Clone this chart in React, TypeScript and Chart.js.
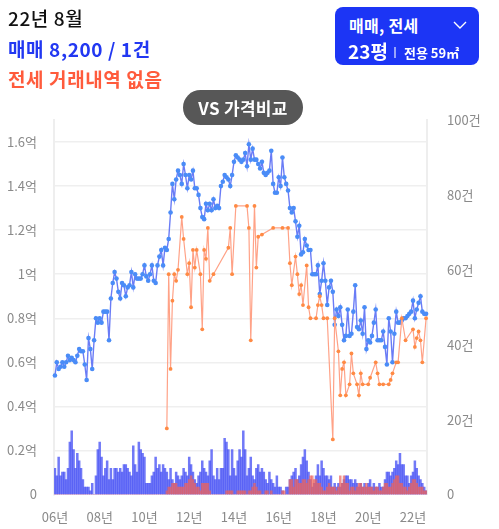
import React, { useEffect, useRef } from 'react';
import { Chart, registerables } from 'chart.js';

Chart.register(...registerables);

// ---- data ----
const START_YEAR = 2006;
const MONTH_COUNT = 200; // 2006-01 .. 2022-08
const months: string[] = Array.from({ length: MONTH_COUNT }, (_, i) =>
  `${START_YEAR + Math.floor(i / 12)}-${String((i % 12) + 1).padStart(2, '0')}`
);
const yearTickLabels = ['06년', '08년', '10년', '12년', '14년', '16년', '18년', '20년', '22년'];

// 매매 평균가 (억)
const salePrice: number[] = [
  0.54, 0.60, 0.57, 0.58, 0.60, 0.58, 0.60, 0.63, 0.61, 0.62,
  0.61, 0.60, 0.63, 0.66, 0.65, 0.65, 0.59, 0.52, 0.71, 0.66,
  0.57, 0.70, 0.80, 0.78, 0.80, 0.78, 0.83, 0.83, 0.83, 0.70,
  0.89, 0.96, 1.01, 0.98, 0.92, 0.89, 0.96, 0.95, 0.90, 0.94,
  0.95, 1.01, 0.94, 1.00, 0.98, 0.98, 0.98, 1.00, 1.04, 0.99,
  0.97, 1.00, 1.04, 0.97, 0.96, 1.04, 1.08, 1.11, 1.04, 1.12,
  1.11, 1.16, 1.28, 1.41, 1.34, 1.43, 1.47, 1.45, 1.41, 1.50,
  1.45, 1.39, 1.45, 1.43, 1.47, 1.39, 1.39, 1.36, 1.30, 1.26,
  1.25, 1.32, 1.29, 1.32, 1.29, 1.34, 1.30, 1.31, 1.30, 1.40,
  1.42, 1.45, 1.44, 1.43, 1.40, 1.45, 1.51, 1.54, 1.53, 1.52,
  1.51, 1.52, 1.55, 1.49, 1.59, 1.52, 1.57, 1.52, 1.52, 1.50,
  1.48, 1.51, 1.46, 1.45, 1.46, 1.47, 1.56, 1.41, 1.37, 1.37,
  1.44, 1.40, 1.53, 1.44, 1.41, 1.38, 1.30, 1.28, 1.30, 1.24,
  1.17, 1.22, 1.09, 1.10, 1.16, 1.13, 1.11, 1.11, 1.00, 1.00,
  1.00, 1.04, 0.91, 0.97, 1.05, 0.97, 0.86, 0.94, 0.97, 0.92,
  0.77, 0.84, 0.81, 0.85, 0.77, 0.70, 0.72, 0.84, 0.72, 0.73,
  0.83, 0.95, 0.76, 0.75, 0.79, 0.73, 0.85, 0.66, 0.70, 0.69,
  0.72, 0.78, 0.84, 0.70, 0.70, 0.70, 0.74, 0.67, 0.59, 0.80,
  0.74, 0.60, 0.73, 0.83, 0.78, 0.78, 0.79, 0.80, 0.80, 0.81,
  0.82, 0.83, 0.88, 0.80, 0.84, 0.87, 0.90, 0.83, 0.82, 0.82,
];

// 전세 평균가 (억)
const N = null;
const jeonsePrice: (number | null)[] = [
  N, N, N, N, N, N, N, N, N, N,
  N, N, N, N, N, N, N, N, N, N,
  N, N, N, N, N, N, N, N, N, N,
  N, N, N, N, N, N, N, N, N, N,
  N, N, N, N, N, N, N, N, N, N,
  N, N, N, N, N, N, N, N, N, N,
  0.30, 1.00, 0.57, 0.88, 1.00, 0.97, 1.02, N, 1.26, 1.16,
  N, 1.00, 1.05, 0.85, 1.11, 1.03, 1.11, N, 1.00, 0.75,
  1.11, 1.07, 1.21, 0.97, N, 1.00, N, N, N, N,
  N, N, N, 1.12, 1.21, 1.00, N, 1.31, N, N,
  N, N, N, 1.31, 1.21, 0.70, N, 1.31, 1.03, 1.17,
  N, 1.18, N, N, N, N, N, 1.21, N, N,
  N, N, 1.21, N, N, 1.21, 1.05, 0.95, N, 1.08,
  1.00, 0.91, 0.95, 0.86, N, 1.04, 0.85, 0.80, N, N,
  0.80, 0.86, 0.90, 0.86, 0.80, N, 0.80, N, N, 0.25,
  0.80, N, 0.65, 0.45, 0.57, 0.60, 0.45, N, 0.50, 0.64,
  0.55, N, 0.50, 0.45, 0.55, 0.50, N, N, 0.50, 0.53,
  N, N, 0.60, 0.55, 0.50, N, 0.50, N, N, 0.50,
  0.52, 0.55, N, 0.60, 0.60, N, 0.80, N, 0.70, N,
  N, N, 0.75, 0.67, 0.71, 0.74, 0.70, 0.60, N, 0.80,
];

// 매매 거래량 (건)
const saleCount: number[] = [
  7, 5, 10, 5, 6, 6, 4, 7, 14, 17,
  12, 7, 11, 9, 7, 4, 2, 2, 2, 1,
  3, 0, 5, 12, 14, 10, 5, 7, 9, 4,
  7, 4, 7, 7, 6, 7, 6, 8, 8, 7,
  6, 5, 13, 8, 6, 14, 12, 11, 10, 3,
  3, 3, 5, 6, 10, 7, 8, 6, 8, 7,
  6, 4, 7, 4, 3, 6, 5, 4, 5, 7,
  6, 5, 10, 8, 6, 4, 3, 5, 6, 9,
  7, 6, 5, 9, 12, 5, 4, 7, 4, 7,
  7, 15, 14, 12, 5, 12, 7, 5, 9, 12,
  10, 17, 12, 5, 7, 10, 5, 4, 7, 8,
  6, 7, 6, 4, 3, 6, 4, 3, 2, 5,
  2, 2, 1, 0, 2, 2, 4, 5, 6, 7,
  4, 5, 8, 10, 12, 9, 6, 4, 2, 3,
  5, 8, 5, 9, 7, 5, 5, 4, 5, 2,
  3, 2, 3, 2, 3, 4, 5, 5, 4, 4,
  3, 4, 3, 2, 3, 2, 3, 2, 3, 4,
  2, 3, 2, 2, 3, 2, 2, 4, 6, 6,
  5, 6, 7, 9, 8, 11, 8, 8, 5, 5,
  3, 5, 6, 9, 7, 5, 4, 3, 2, 1,
];

// 전세 거래량 (건)
const jeonseCount: number[] = [
  0, 0, 0, 0, 0, 0, 0, 0, 0, 0,
  0, 0, 0, 0, 0, 0, 0, 0, 0, 0,
  0, 0, 0, 0, 0, 0, 0, 0, 0, 0,
  0, 0, 0, 0, 0, 0, 0, 0, 0, 0,
  0, 0, 0, 0, 0, 0, 0, 0, 0, 0,
  0, 0, 0, 0, 0, 0, 0, 0, 0, 0,
  1, 2, 2, 3, 3, 3, 2, 2, 2, 2,
  3, 3, 4, 5, 4, 3, 2, 2, 1, 3,
  3, 3, 3, 1, 0, 0, 0, 0, 0, 0,
  0, 0, 1, 1, 1, 1, 0, 0, 1, 1,
  1, 1, 1, 0, 1, 1, 2, 3, 2, 1,
  1, 0, 0, 1, 1, 0, 1, 0, 0, 0,
  0, 0, 1, 1, 0, 0, 4, 4, 2, 4,
  4, 3, 3, 4, 4, 3, 4, 5, 5, 4,
  4, 3, 3, 2, 1, 1, 2, 3, 2, 2,
  2, 1, 2, 5, 3, 5, 3, 3, 1, 2,
  2, 1, 2, 3, 3, 2, 2, 3, 2, 2,
  2, 1, 2, 2, 1, 1, 2, 3, 3, 2,
  2, 3, 4, 5, 5, 3, 3, 2, 2, 1,
  2, 3, 4, 4, 3, 2, 2, 2, 1, 1,
];

const LEFT_MAX = 1.7;
const RIGHT_MAX = 100;

const FONT = "'Noto Sans CJK KR', 'Noto Sans', sans-serif";

function ChartCanvas() {
  const ref = useRef<HTMLCanvasElement | null>(null);
  useEffect(() => {
    if (!ref.current) return;
    const chart = new Chart(ref.current, {
      type: 'bar',
      data: {
        labels: months,
        datasets: [
          {
            type: 'line',
            label: '전세가',
            data: jeonsePrice,
            yAxisID: 'y',
            borderColor: '#ffa287',
            backgroundColor: '#ff8a44',
            pointBackgroundColor: '#ff8a44',
            pointBorderWidth: 0,
            pointRadius: 1.9,
            borderWidth: 1.2,
            spanGaps: true,
            tension: 0,
            order: 0,
          } as any,
          {
            type: 'line',
            label: '매매가',
            data: salePrice,
            yAxisID: 'y',
            borderColor: '#6a7cf6',
            backgroundColor: '#4a8cf7',
            pointBackgroundColor: '#4a8cf7',
            pointBorderWidth: 0,
            pointRadius: 2.3,
            borderWidth: 1.4,
            tension: 0,
            order: 1,
          } as any,
          {
            type: 'bar',
            label: '전세 거래량',
            data: jeonseCount,
            yAxisID: 'y1',
            backgroundColor: 'rgba(236, 98, 92, 0.7)',
            barPercentage: 1,
            categoryPercentage: 1,
            grouped: false,
            order: 2,
          } as any,
          {
            type: 'bar',
            label: '매매 거래량',
            data: saleCount,
            yAxisID: 'y1',
            backgroundColor: 'rgba(64, 74, 244, 0.74)',
            barPercentage: 1,
            categoryPercentage: 1,
            grouped: false,
            order: 3,
          } as any,
        ],
      },
      options: {
        responsive: false,
        animation: false,
        devicePixelRatio: 1,
        layout: { padding: { top: 120, left: 0, right: 0, bottom: 0 } },
        plugins: { legend: { display: false }, tooltip: { enabled: false }, title: { display: false } },
        scales: {
          x: {
            type: 'category',
            grid: { display: false, drawTicks: false },
            border: { display: false },
            ticks: {
              autoSkip: false,
              maxRotation: 0,
              minRotation: 0,
              padding: 15,
              color: '#8a8a8a',
              font: { family: FONT, size: 13 },
              callback: (_v: any, idx: number) => (idx % 24 === 0 ? yearTickLabels[idx / 24] : ''),
            },
            afterFit: (s: any) => { s.height = 34.5; },
          },
          y: {
            type: 'linear',
            position: 'left',
            min: 0,
            max: LEFT_MAX,
            ticks: {
              stepSize: 0.2,
              padding: 17,
              color: '#8a8a8a',
              font: { family: FONT, size: 13 },
              callback: (v: any) => {
                const r = Math.round(Number(v) * 10) / 10;
                if (r === 0) return '0';
                return (Number.isInteger(r) ? String(r) : r.toFixed(1)) + '억';
              },
            },
            grid: {
              drawTicks: false,
              lineWidth: 1.5,
              color: (ctx: any) => (ctx.tick && ctx.tick.value === 0 ? 'rgba(0,0,0,0)' : '#efefef'),
            },
            border: { display: true, color: '#eeeeee', width: 2 },
            afterBuildTicks: (s: any) => {
              s.ticks = s.ticks.filter((t: any) => t.value <= 1.6001);
            },
            afterFit: (s: any) => { s.width = 54; },
          },
          y1: {
            type: 'linear',
            position: 'right',
            min: 0,
            max: RIGHT_MAX,
            ticks: {
              stepSize: 20,
              padding: 20,
              color: '#8a8a8a',
              font: { family: FONT, size: 13 },
              callback: (v: any) => (Number(v) === 0 ? '0' : `${v}건`),
            },
            grid: { display: false, drawTicks: false },
            border: { display: true, color: '#eeeeee', width: 2 },
            afterFit: (s: any) => { s.width = 72; },
          },
        },
      } as any,
    });
    return () => chart.destroy();
  }, []);
  return (
    <canvas
      ref={ref}
      width={499}
      height={529}
      style={{ position: 'absolute', left: 0, top: 0, width: 499, height: 529 }}
    />
  );
}

export default function App() {
  return (
    <div
      style={{
        position: 'fixed',
        left: 0,
        top: 0,
        width: 499,
        height: 529,
        background: '#ffffff',
        fontFamily: FONT,
        overflow: 'hidden',
      }}
    >
      <ChartCanvas />
      <div style={{ position: 'absolute', left: 8, top: 4, fontSize: 19, fontWeight: 500, color: '#111', lineHeight: '27px', letterSpacing: 0.6 }}>
        22년 8월
      </div>
      <div style={{ position: 'absolute', left: 8, top: 35, fontSize: 19, fontWeight: 700, color: '#2238f2', lineHeight: '27px', letterSpacing: 0.6 }}>
        매매 8,200 / 1건
      </div>
      <div style={{ position: 'absolute', left: 8, top: 65, fontSize: 19, fontWeight: 700, color: '#ff5b3c', lineHeight: '27px', letterSpacing: 0.6 }}>
        전세 거래내역 없음
      </div>
      <div
        style={{
          position: 'absolute',
          left: 335,
          top: 7,
          width: 144,
          height: 58,
          borderRadius: 8,
          background: '#1c35f5',
          color: '#fff',
        }}
      >
        <div style={{ position: 'absolute', left: 14, top: 6, fontSize: 16, fontWeight: 700, lineHeight: '24px', letterSpacing: 0.3 }}>매매, 전세</div>
        <svg style={{ position: 'absolute', left: 118, top: 13 }} width="14" height="10" viewBox="0 0 14 10">
          <polyline points="1,2 7,8 13,2" fill="none" stroke="#fff" strokeWidth="1.4" />
        </svg>
        <div style={{ position: 'absolute', left: 13, top: 31, fontSize: 19, fontWeight: 700, lineHeight: '26px' }}>23평</div>
        <div style={{ position: 'absolute', left: 59, top: 40, width: 1.5, height: 11, background: 'rgba(255,255,255,0.55)' }} />
        <div style={{ position: 'absolute', left: 69, top: 35, fontSize: 13, fontWeight: 700, lineHeight: '22px' }}>전용 59㎡</div>
      </div>
      <div
        style={{
          position: 'absolute',
          left: 183,
          top: 90,
          width: 120,
          height: 35,
          borderRadius: 18,
          background: '#575757',
          color: '#fff',
          fontSize: 17,
          fontWeight: 700,
          lineHeight: '35px',
          textAlign: 'center',
          letterSpacing: 0.3,
        }}
      >
        VS 가격비교
      </div>
    </div>
  );
}
